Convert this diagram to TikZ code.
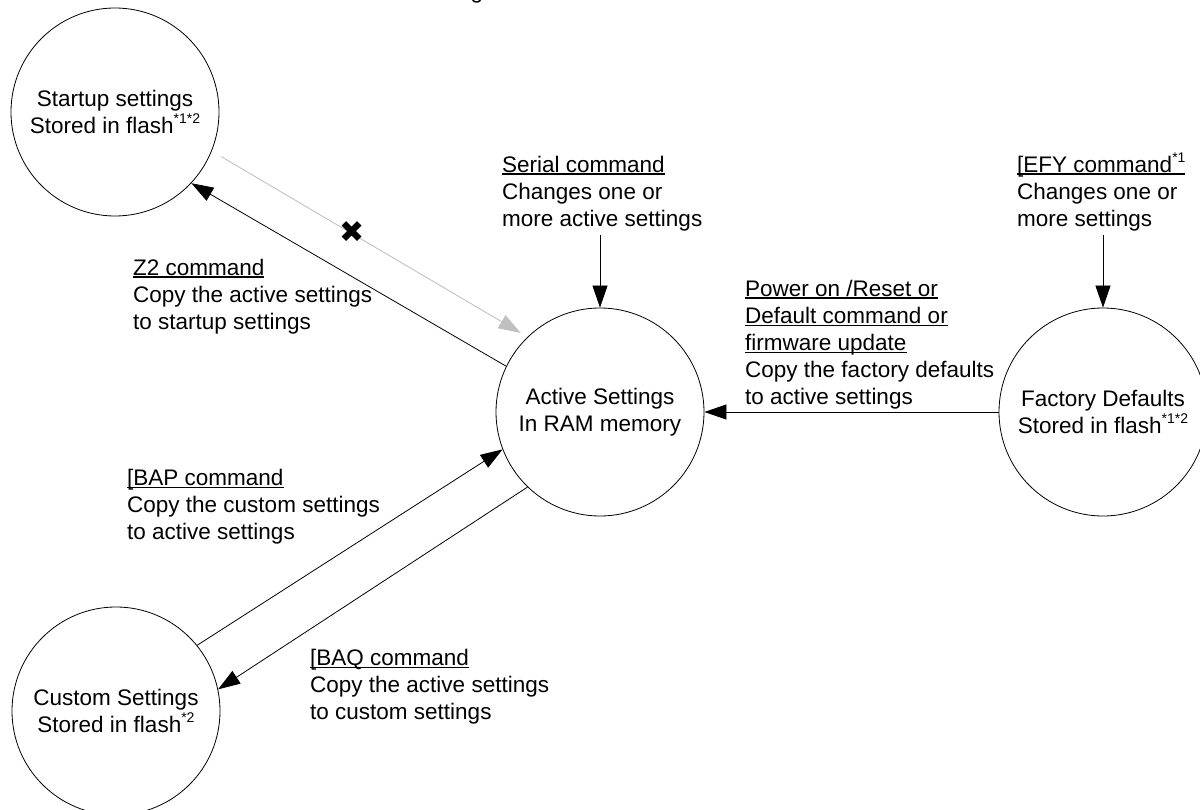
\documentclass[tikz,border=0pt]{standalone}
\usepackage{fontspec}
\setmainfont{Liberation Sans}
\newfontfamily\symfont{DejaVu Sans}
\usetikzlibrary{arrows.meta}
\definecolor{lgray}{RGB}{192,192,192}
\newcommand\myul[1]{\setbox0\hbox{#1}\rlap{\rule[-2.5pt]{\wd0}{1.2pt}}\box0}
\newcommand\mysup[1]{\raisebox{10pt}{\fontsize{14}{14}\selectfont #1}}
\newcommand\fl{\rule{0pt}{22pt}}
\begin{document}
\begin{tikzpicture}[x=1pt,y=-1pt,
  state/.style={circle,draw,line width=0.8pt,minimum size=208pt,inner sep=0pt,align=center,font=\fontsize{22.5}{27}\selectfont},
  lbl/.style={anchor=north west,align=left,inner sep=0pt,font=\fontsize{22.5}{27}\selectfont},
  arr/.style={line width=0.8pt,-{Triangle[length=22pt,width=15pt]}},
  garr/.style={arr,draw=lgray,fill=lgray}]
\useasboundingbox (0,0) rectangle (1200,810);
\clip (0,0) rectangle (1200,810);
\fill[white] (0,0) rectangle (1200,810);

\node[anchor=base,inner sep=0pt,font=\fontsize{22.5}{27}\selectfont] (gfrag) at (477,-1) {g};

\node[state] (startup) at (115,112) {Startup settings\\Stored in flash\mysup{*1*2}};
\node[state] (active) at (600,412) {Active Settings\\In RAM memory};
\node[state] (factory) at (1103,412) {Factory Defaults\\Stored in flash\mysup{*1*2}};
\node[state] (custom) at (116,711) {Custom Settings\\Stored in flash\mysup{*2}};

\node[lbl] (serial) at (502,150) {\fl\myul{Serial command}\\Changes one or\\more active settings};
\node[lbl] (efy) at (1017,150) {\fl\myul{[EFY command\mysup{*1}}\\Changes one or\\more settings};
\node[lbl] (power) at (745,274) {\fl\myul{Power on /Reset or}\\\myul{Default command or}\\\myul{firmware update}\\Copy the factory defaults\\to active settings};
\node[lbl] (z2) at (133,253) {\fl\myul{Z2 command}\\Copy the active settings\\to startup settings};
\node[lbl] (bap) at (127,463) {\fl\myul{[BAP command}\\Copy the custom settings\\to active settings};
\node[lbl] (baq) at (310,643) {\fl\myul{[BAQ command}\\Copy the active settings\\to custom settings};

\coordinate (serialtop) at (600,235);
\coordinate (efytop) at (1103,235);

\draw[arr] (serialtop) -- (active.north);
\draw[arr] (efytop) -- (factory.north);
\draw[arr] (factory.west) -- (active.east);
\draw[arr] (active.154) -- (startup.-43);
\draw[garr,shorten <=11pt,shorten >=8pt] (startup.-22) -- (active.134);
\draw[arr] (custom.39) -- (active.-159);
\draw[arr] (active.-134) -- (custom.12);

\node[inner sep=0pt,font=\symfont\fontsize{30}{30}\selectfont] (xmark) at (352,232) {✖};
\end{tikzpicture}
\end{document}
